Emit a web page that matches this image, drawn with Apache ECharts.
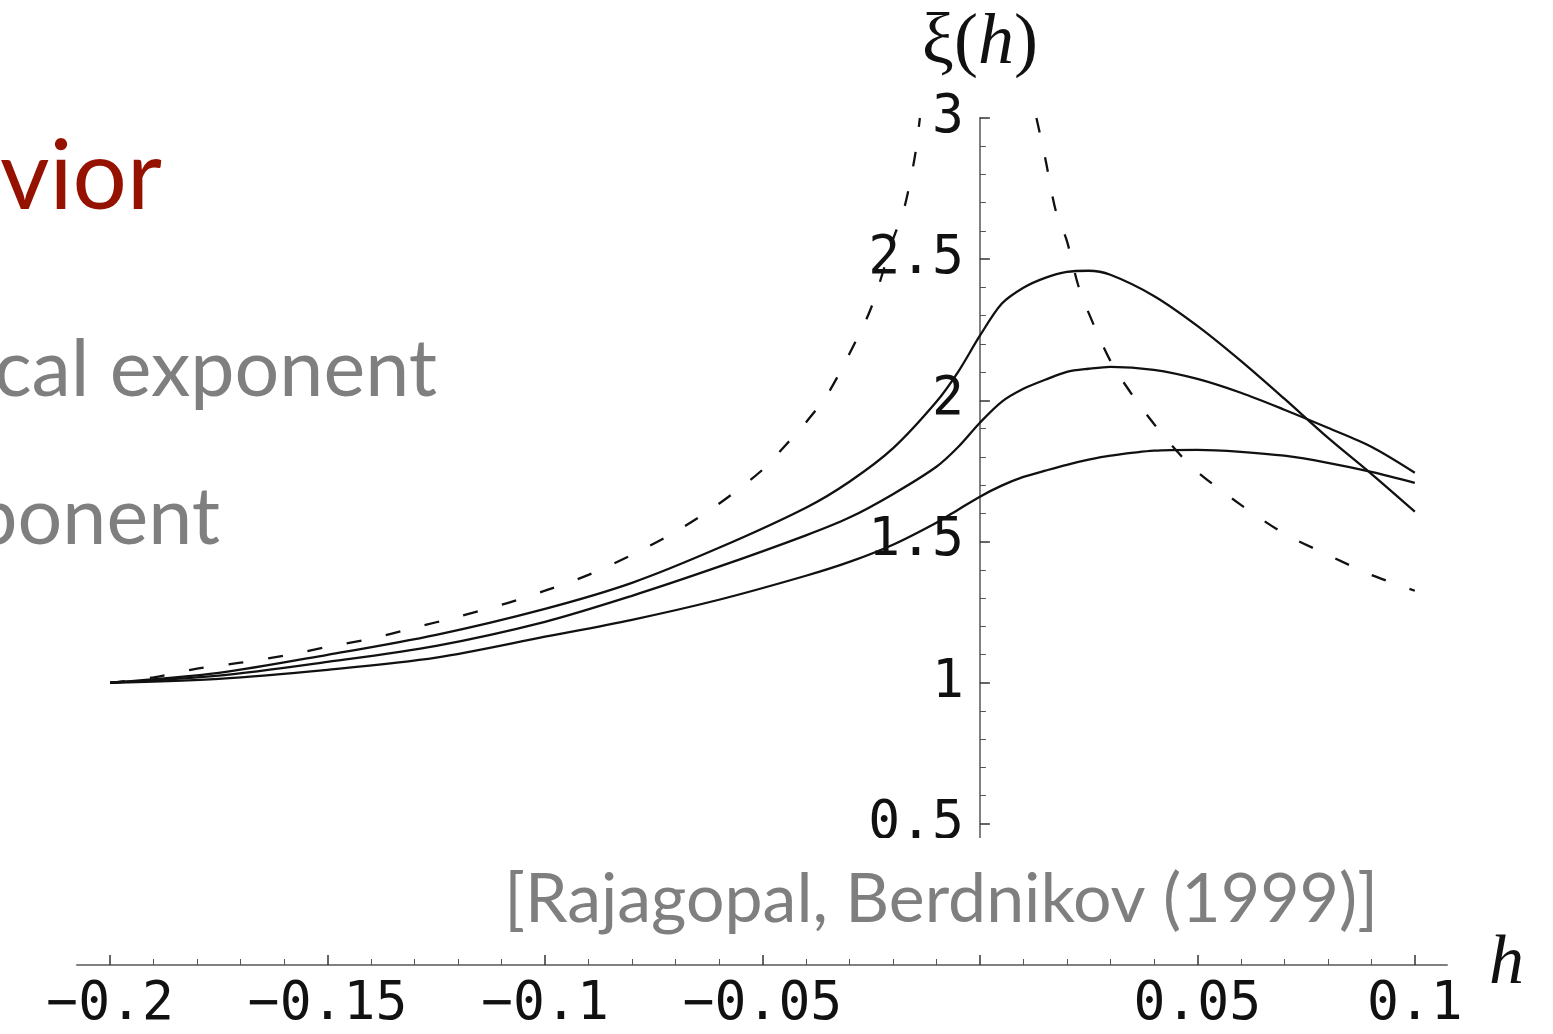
<!DOCTYPE html>
<html>
<head>
<meta charset="utf-8">
<script src="https://cdn.jsdelivr.net/npm/echarts@6/dist/echarts.min.js"></script>
<style>
  html, body { margin: 0; padding: 0; background: #fff; }
  #chart { width: 1553px; height: 1034px; }
</style>
</head>
<body>
<div id="chart"></div>
<script>
// Correlation length xi(h) along three trajectories (solid) and the critical one (dashed)
const hGrid = [-0.2, -0.175, -0.15, -0.125, -0.1, -0.08, -0.06, -0.04, -0.03, -0.02, -0.01, -0.005,
  0, 0.005, 0.01, 0.015, 0.02, 0.025, 0.03, 0.04, 0.05, 0.06, 0.07, 0.08, 0.09, 0.1];
const xiUpper = [1.000, 1.035, 1.099, 1.170, 1.262, 1.354, 1.478, 1.620, 1.712, 1.830, 1.995, 2.101,
  2.229, 2.342, 2.399, 2.434, 2.455, 2.459, 2.445, 2.370, 2.264, 2.140, 2.006, 1.868, 1.740, 1.606];
const xiMiddle = [1.000, 1.025, 1.074, 1.131, 1.216, 1.308, 1.411, 1.522, 1.585, 1.668, 1.765, 1.835,
  1.921, 1.995, 2.041, 2.073, 2.101, 2.112, 2.119, 2.108, 2.076, 2.027, 1.967, 1.903, 1.836, 1.744];
const xiLower = [1.000, 1.014, 1.046, 1.089, 1.163, 1.223, 1.294, 1.379, 1.428, 1.489, 1.567, 1.613,
  1.659, 1.698, 1.729, 1.751, 1.772, 1.790, 1.804, 1.822, 1.825, 1.818, 1.804, 1.779, 1.747, 1.708];

const hCritLeft = [-0.2, -0.19, -0.18, -0.17, -0.16, -0.15, -0.14, -0.13, -0.12, -0.11, -0.1, -0.09,
  -0.08, -0.07, -0.06, -0.05, -0.045, -0.04, -0.035, -0.03, -0.025, -0.02, -0.0175, -0.015, -0.0138];
const xiCritLeft = [1.000, 1.019, 1.050, 1.071, 1.096, 1.127, 1.156, 1.195, 1.234, 1.276, 1.326, 1.382,
  1.453, 1.535, 1.634, 1.754, 1.836, 1.922, 2.023, 2.165, 2.328, 2.569, 2.675, 2.859, 3.0];
const hCritRight = [0.013, 0.015, 0.0175, 0.02, 0.0225, 0.025, 0.03, 0.035, 0.04, 0.045, 0.05,
  0.06, 0.07, 0.08, 0.09, 0.1];
const xiCritRight = [3.0, 2.859, 2.668, 2.565, 2.413, 2.310, 2.140, 2.020, 1.917, 1.825, 1.747,
  1.630, 1.528, 1.453, 1.382, 1.326];

// Axis ticks and labels
const xMajorTicks = [-0.2, -0.15, -0.1, -0.05, 0, 0.05, 0.1];
const xTickLabels = [-0.2, -0.15, -0.1, -0.05, 0.05, 0.1];
const yMajorTicks = [0.5, 1, 1.5, 2, 2.5, 3];
const yTickLabels = [0.5, 1, 1.5, 2, 2.5, 3];

const xMinorTicks = [];
for (let k = -20; k <= 10; k++) if (k % 5 !== 0) xMinorTicks.push(k / 100);
const yMinorTicks = [];
for (let k = 5; k <= 30; k++) if (k % 5 !== 0) yMinorTicks.push(k / 10);

const X_MIN = -0.2076, X_MAX = 0.1074;
const Y_MIN = 0.4, Y_MAX = 3;
const GRID_LEFT = 77, GRID_RIGHT = 106;
// horizontal distance from the grid's left edge to h = 0, where the vertical axis sits
const Y_AXIS_SHIFT = -(0 - X_MIN) / (X_MAX - X_MIN) * (1553 - GRID_LEFT - GRID_RIGHT);

const pairs = (xs, ys) => xs.map((x, i) => [x, ys[i]]);
const tickFont = { fontFamily: 'DejaVu Sans Mono', fontSize: 53, color: '#111' };
const fmt = v => String(v).replace('-', '\u2212');

const lineBase = { type: 'line', showSymbol: false, smooth: 0.3, xAxisIndex: 0, yAxisIndex: 0,
  lineStyle: { color: '#111', width: 2.3 }, z: 3 };
const dashStyle = { color: '#111', width: 2.3, type: [15, 25] };

const option = {
  animation: false,
  backgroundColor: '#fff',
  grid: { left: GRID_LEFT, right: GRID_RIGHT, top: 118, bottom: 181.8, containLabel: false,
    outerBoundsMode: 'none' },
  xAxis: [
    {
      type: 'value', min: X_MIN, max: X_MAX, position: 'bottom', offset: 112.8,
      axisLine: { show: true, onZero: false, lineStyle: { color: '#808080', width: 2 } },
      axisTick: { show: true, inside: true, length: 10, customValues: xMajorTicks,
        lineStyle: { color: '#333', width: 1.5 } },
      axisLabel: Object.assign({ customValues: xTickLabels, margin: 14, formatter: fmt }, tickFont),
      splitLine: { show: false },
      name: 'h', nameLocation: 'end', nameGap: 42,
      nameTextStyle: { fontFamily: 'Liberation Serif', fontStyle: 'italic', fontSize: 70, color: '#111',
        verticalAlign: 'middle' }
    },
    {
      type: 'value', min: X_MIN, max: X_MAX, position: 'bottom', offset: 112.8,
      axisLine: { show: false, onZero: false },
      axisTick: { show: true, inside: true, length: 6, customValues: xMinorTicks,
        lineStyle: { color: '#555', width: 1 } },
      axisLabel: { show: false },
      splitLine: { show: false }
    }
  ],
  yAxis: [
    {
      type: 'value', min: Y_MIN, max: Y_MAX, position: 'left', offset: Y_AXIS_SHIFT,
      axisLine: { show: true, onZero: false, lineStyle: { color: '#808080', width: 2 } },
      axisTick: { show: true, inside: true, length: 10, customValues: yMajorTicks,
        lineStyle: { color: '#333', width: 1.5 } },
      axisLabel: Object.assign({ customValues: yTickLabels, margin: 16, formatter: fmt }, tickFont),
      splitLine: { show: false },
      name: '{n|\u03be(}{i|h}{n|)}', nameLocation: 'end', nameGap: 38,
      nameTextStyle: {
        rich: {
          n: { fontFamily: 'Liberation Serif', fontSize: 72, color: '#111' },
          i: { fontFamily: 'Liberation Serif', fontStyle: 'italic', fontSize: 72, color: '#111' }
        }
      }
    },
    {
      type: 'value', min: Y_MIN, max: Y_MAX, position: 'left', offset: Y_AXIS_SHIFT,
      axisLine: { show: false, onZero: false },
      axisTick: { show: true, inside: true, length: 6, customValues: yMinorTicks,
        lineStyle: { color: '#555', width: 1 } },
      axisLabel: { show: false },
      splitLine: { show: false }
    }
  ],
  graphic: [
    { type: 'text', x: 162, y: 226, z: 50,
      style: { text: 'behavior', font: '96px Lato', fill: '#961200', textAlign: 'right', textVerticalAlign: 'bottom' } },
    { type: 'text', x: 437, y: 410, z: 50,
      style: { text: 'critical exponent', font: '79px Lato', fill: '#7f7f7f', textAlign: 'right', textVerticalAlign: 'bottom' } },
    { type: 'text', x: 220, y: 558, z: 50,
      style: { text: 'exponent', font: '79px Lato', fill: '#7f7f7f', textAlign: 'right', textVerticalAlign: 'bottom' } },
    { type: 'rect', z: 60, shape: { x: 488, y: 838, width: 905, height: 110 }, style: { fill: '#fff' } },
    { type: 'text', x: 1378, y: 934, z: 61,
      style: { text: '[Rajagopal, Berdnikov (1999)]', font: '68px Lato', fill: '#7f7f7f', textAlign: 'right', textVerticalAlign: 'bottom' } }
  ],
  series: [
    Object.assign({ name: 'upper', data: pairs(hGrid, xiUpper) }, lineBase),
    Object.assign({ name: 'middle', data: pairs(hGrid, xiMiddle) }, lineBase),
    Object.assign({ name: 'lower', data: pairs(hGrid, xiLower) }, lineBase),
    Object.assign({}, lineBase, { name: 'critical-left', data: pairs(hCritLeft, xiCritLeft), lineStyle: dashStyle }),
    Object.assign({}, lineBase, { name: 'critical-right', data: pairs(hCritRight, xiCritRight), lineStyle: dashStyle })
  ]
};

const chart = echarts.init(document.getElementById('chart'), null, { renderer: 'canvas' });
chart.setOption(option);
</script>
</body>
</html>
